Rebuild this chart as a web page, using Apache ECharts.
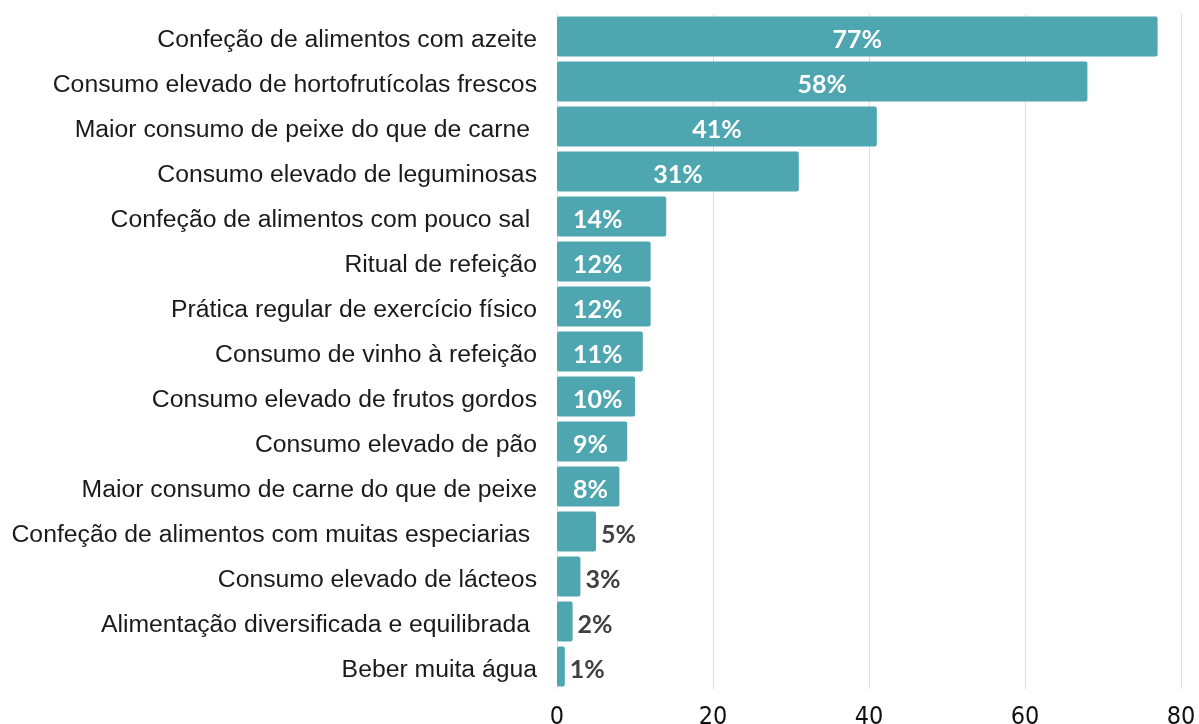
<!DOCTYPE html>
<html>
<head>
<meta charset="utf-8">
<script src="https://cdn.jsdelivr.net/npm/echarts@6/dist/echarts.min.js"></script>
<style>
  html, body { margin: 0; padding: 0; background: #fff; }
  #chart { width: 1199px; height: 724px; }
</style>
</head>
<body>
<div id="chart"></div>
<script>
// categorias de cima para baixo
var categorias = [
    "Confeção de alimentos com azeite",
    "Consumo elevado de hortofrutícolas frescos",
    "Maior consumo de peixe do que de carne ",
    "Consumo elevado de leguminosas",
    "Confeção de alimentos com pouco sal ",
    "Ritual de refeição",
    "Prática regular de exercício físico",
    "Consumo de vinho à refeição",
    "Consumo elevado de frutos gordos",
    "Consumo elevado de pão",
    "Maior consumo de carne do que de peixe",
    "Confeção de alimentos com muitas especiarias ",
    "Consumo elevado de lácteos",
    "Alimentação diversificada e equilibrada ",
    "Beber muita água"
];
// comprimento das barras (lido no eixo)
var valores = [77, 68, 41, 31, 14, 12, 12, 11, 10, 9, 8, 5, 3, 2, 1];
// rótulos mostrados nas barras
var rotulos = ["77%", "58%", "41%", "31%", "14%", "12%", "12%", "11%", "10%", "9%", "8%", "5%", "3%", "2%", "1%"];
var ticksX = [0, 20, 40, 60, 80];

function myChart() {
    var e = echarts.init(document.getElementById("chart"));

    var dados = valores.map(function (v, i) {
        var label;
        if (v >= 20) {
            label = { position: "inside", color: "#fff" };
        } else if (v >= 8) {
            label = { position: "insideLeft", distance: 16, color: "#fff" };
        } else {
            label = { position: "right", distance: 5, color: "#404040" };
        }
        return { value: v, label: label };
    });

    var option = {
        animation: false,
        grid: {
            left: 557,
            right: 18,
            top: 14,
            bottom: 35,
            containLabel: false,
            outerBoundsMode: "none"
        },
        xAxis: {
            type: "value",
            min: ticksX[0],
            max: ticksX[ticksX.length - 1],
            interval: 20,
            axisLine: { show: false },
            axisTick: { show: false },
            splitLine: {
                lineStyle: { color: "#dcdcdc", width: 1 }
            },
            axisLabel: {
                margin: 16,
                fontFamily: "'DejaVu Sans Condensed', 'Liberation Sans', sans-serif",
                fontSize: 25,
                color: "#111"
            }
        },
        yAxis: {
            type: "category",
            inverse: true,
            data: categorias,
            axisLine: { show: false },
            axisTick: { show: false },
            axisLabel: {
                margin: 20,
                formatter: function (v) {
                    return "{c|" + v + "}";
                },
                rich: {
                    c: {
                        padding: [7, 0, 0, 0],
                        fontFamily: "'Liberation Sans', Arial, sans-serif",
                        fontSize: 24.75,
                        color: "#1a1a1a"
                    }
                }
            }
        },
        series: [{
            type: "bar",
            data: dados,
            barCategoryGap: "11%",
            itemStyle: {
                color: "#4ea6b0",
                borderRadius: 2
            },
            label: {
                show: true,
                fontFamily: "Lato",
                fontWeight: "bold",
                fontSize: 25,
                offset: [0, 3],
                formatter: function (p) {
                    return rotulos[p.dataIndex];
                }
            }
        }]
    };
    e.setOption(option);
}
myChart();
</script>
</body>
</html>
